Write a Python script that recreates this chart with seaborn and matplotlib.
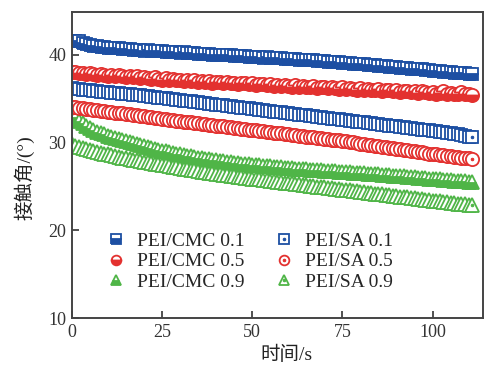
import numpy as np
import pandas as pd
import matplotlib
matplotlib.use("Agg")
import matplotlib.pyplot as plt
from matplotlib.legend_handler import HandlerTuple
import seaborn as sns

# time axis (s)
time_s = list(range(0, 112))

# contact angle readings (deg), one per second
cmc_01 = [41.65, 41.60, 41.55, 41.40, 41.25, 41.15, 41.05, 41.00, 40.95, 40.90,
          40.85, 40.85, 40.80, 40.75, 40.70, 40.72, 40.65, 40.60, 40.62, 40.55,
          40.50, 40.52, 40.48, 40.45, 40.40, 40.42, 40.38, 40.35, 40.33, 40.30,
          40.28, 40.30, 40.25, 40.20, 40.22, 40.15, 40.12, 40.10, 40.08, 40.05,
          40.02, 40.05, 40.00, 39.95, 39.97, 39.92, 39.90, 39.88, 39.85, 39.80,
          39.78, 39.80, 39.75, 39.70, 39.72, 39.68, 39.65, 39.62, 39.60, 39.58,
          39.55, 39.55, 39.50, 39.48, 39.45, 39.42, 39.40, 39.38, 39.35, 39.30,
          39.28, 39.25, 39.25, 39.20, 39.15, 39.12, 39.10, 39.05, 39.02, 39.00,
          38.95, 38.92, 38.90, 38.85, 38.82, 38.80, 38.75, 38.70, 38.68, 38.65,
          38.60, 38.55, 38.52, 38.50, 38.45, 38.40, 38.38, 38.35, 38.30, 38.25,
          38.22, 38.20, 38.15, 38.10, 38.08, 38.05, 38.00, 37.95, 37.92, 37.90,
          37.85, 37.80]
cmc_05 = [38.10, 38.05, 37.95, 38.00, 37.85, 37.90, 37.80, 37.75, 37.85, 37.70,
          37.65, 37.70, 37.60, 37.75, 37.55, 37.50, 37.60, 37.45, 37.55, 37.40,
          37.50, 37.35, 37.30, 37.45, 37.25, 37.20, 37.35, 37.15, 37.25, 37.10,
          37.20, 37.05, 37.15, 37.00, 37.10, 36.95, 37.05, 36.90, 37.00, 36.85,
          36.95, 36.90, 36.80, 36.95, 36.75, 36.85, 36.70, 36.80, 36.75, 36.65,
          36.80, 36.60, 36.70, 36.65, 36.55, 36.70, 36.50, 36.60, 36.45, 36.55,
          36.50, 36.40, 36.55, 36.35, 36.45, 36.40, 36.30, 36.45, 36.25, 36.40,
          36.30, 36.20, 36.35, 36.25, 36.15, 36.30, 36.10, 36.20, 36.15, 36.05,
          36.20, 36.00, 36.10, 36.05, 35.95, 36.10, 35.90, 36.00, 35.95, 35.85,
          36.00, 35.80, 35.90, 35.85, 35.75, 35.90, 35.70, 35.85, 35.75, 35.65,
          35.80, 35.60, 35.70, 35.90, 35.55, 35.65, 35.60, 35.50, 35.75, 35.55,
          35.50, 35.45]
cmc_09 = [33.50, 32.90, 32.50, 32.20, 31.90, 31.65, 31.45, 31.25, 31.10, 30.95,
          30.80, 30.68, 30.56, 30.44, 30.32, 30.20, 30.08, 29.96, 29.84, 29.72,
          29.60, 29.50, 29.40, 29.30, 29.20, 29.10, 29.01, 28.92, 28.83, 28.74,
          28.65, 28.58, 28.51, 28.44, 28.37, 28.30, 28.23, 28.16, 28.10, 28.04,
          27.98, 27.92, 27.86, 27.80, 27.75, 27.70, 27.66, 27.62, 27.57, 27.52,
          27.48, 27.44, 27.40, 27.36, 27.32, 27.29, 27.25, 27.21, 27.18, 27.14,
          27.10, 27.07, 27.04, 27.01, 26.98, 26.95, 26.92, 26.89, 26.86, 26.83,
          26.80, 26.78, 26.75, 26.73, 26.70, 26.67, 26.64, 26.61, 26.58, 26.55,
          26.52, 26.49, 26.46, 26.43, 26.40, 26.37, 26.34, 26.31, 26.28, 26.25,
          26.22, 26.19, 26.16, 26.13, 26.10, 26.06, 26.02, 25.98, 25.94, 25.90,
          25.86, 25.83, 25.80, 25.77, 25.74, 25.71, 25.68, 25.65, 25.62, 25.59,
          25.55, 25.52]
sa_01 = [36.20, 36.15, 36.10, 36.05, 36.00, 35.95, 35.91, 35.87, 35.83, 35.79,
         35.75, 35.71, 35.67, 35.63, 35.59, 35.55, 35.51, 35.47, 35.43, 35.39,
         35.35, 35.30, 35.25, 35.20, 35.15, 35.10, 35.05, 35.00, 34.95, 34.90,
         34.85, 34.80, 34.75, 34.70, 34.65, 34.60, 34.55, 34.50, 34.45, 34.40,
         34.35, 34.30, 34.25, 34.20, 34.15, 34.10, 34.05, 34.00, 33.95, 33.90,
         33.85, 33.80, 33.75, 33.70, 33.65, 33.60, 33.55, 33.50, 33.45, 33.40,
         33.35, 33.30, 33.25, 33.20, 33.15, 33.10, 33.05, 33.00, 32.95, 32.90,
         32.85, 32.80, 32.75, 32.70, 32.65, 32.60, 32.55, 32.50, 32.45, 32.40,
         32.35, 32.30, 32.25, 32.20, 32.15, 32.10, 32.05, 32.00, 31.95, 31.90,
         31.85, 31.80, 31.75, 31.70, 31.65, 31.60, 31.55, 31.50, 31.45, 31.40,
         31.35, 31.30, 31.25, 31.20, 31.15, 31.10, 31.00, 30.95, 30.85, 30.80,
         30.70, 30.60]
sa_05 = [34.10, 34.05, 33.99, 33.93, 33.88, 33.82, 33.77, 33.71, 33.66, 33.60,
         33.55, 33.49, 33.44, 33.38, 33.33, 33.27, 33.22, 33.16, 33.11, 33.05,
         33.00, 32.95, 32.89, 32.84, 32.78, 32.73, 32.67, 32.62, 32.56, 32.51,
         32.45, 32.40, 32.35, 32.30, 32.25, 32.20, 32.15, 32.10, 32.05, 32.00,
         31.95, 31.90, 31.85, 31.80, 31.75, 31.70, 31.65, 31.60, 31.55, 31.50,
         31.45, 31.40, 31.35, 31.30, 31.25, 31.20, 31.15, 31.10, 31.05, 31.00,
         30.95, 30.90, 30.85, 30.80, 30.75, 30.70, 30.65, 30.60, 30.55, 30.50,
         30.45, 30.40, 30.35, 30.30, 30.25, 30.20, 30.14, 30.08, 30.02, 29.96,
         29.90, 29.84, 29.78, 29.72, 29.66, 29.60, 29.54, 29.48, 29.42, 29.36,
         29.30, 29.24, 29.18, 29.12, 29.06, 29.00, 28.94, 28.88, 28.82, 28.76,
         28.70, 28.65, 28.60, 28.55, 28.50, 28.45, 28.40, 28.35, 28.30, 28.25,
         28.20, 28.15]
sa_09 = [29.80, 29.65, 29.52, 29.40, 29.28, 29.17, 29.06, 28.96, 28.86, 28.76,
         28.66, 28.57, 28.48, 28.39, 28.30, 28.22, 28.14, 28.06, 27.98, 27.90,
         27.82, 27.75, 27.68, 27.61, 27.54, 27.47, 27.40, 27.33, 27.26, 27.19,
         27.12, 27.05, 26.98, 26.91, 26.84, 26.77, 26.70, 26.63, 26.56, 26.50,
         26.44, 26.38, 26.32, 26.26, 26.20, 26.15, 26.10, 26.05, 26.00, 25.95,
         25.90, 25.85, 25.80, 25.75, 25.70, 25.65, 25.60, 25.55, 25.50, 25.45,
         25.40, 25.35, 25.30, 25.25, 25.20, 25.15, 25.10, 25.05, 25.00, 24.95,
         24.90, 24.85, 24.80, 24.75, 24.70, 24.65, 24.60, 24.55, 24.50, 24.45,
         24.40, 24.35, 24.30, 24.25, 24.20, 24.15, 24.10, 24.05, 24.00, 23.95,
         23.90, 23.85, 23.80, 23.75, 23.70, 23.65, 23.60, 23.55, 23.50, 23.45,
         23.40, 23.35, 23.30, 23.25, 23.20, 23.15, 23.10, 23.05, 23.00, 22.95,
         22.90, 22.85]

labels = ["PEI/CMC 0.1", "PEI/CMC 0.5", "PEI/CMC 0.9",
          "PEI/SA 0.1", "PEI/SA 0.5", "PEI/SA 0.9"]
series = [cmc_01, cmc_05, cmc_09, sa_01, sa_05, sa_09]

BLUE = "#1d4fa3"
RED = "#e3312f"
GREEN = "#4fb547"
colors = [BLUE, RED, GREEN, BLUE, RED, GREEN]
markers = ["s", "o", "^", "s", "o", "^"]
msizes = [8.5, 9.5, 10.5, 8.5, 9.5, 10.5]

df = pd.DataFrame({"t": time_s})
for lab, vals in zip(labels, series):
    df[lab] = vals

sns.set_theme(style="ticks")
plt.rcParams["font.family"] = ["Liberation Serif", "Noto Sans CJK SC"]
plt.rcParams["axes.unicode_minus"] = False

fig = plt.figure(figsize=(4.85, 3.7), dpi=100)
ax = fig.add_axes([0.148, 0.1405, 0.848, 0.827])

handles = []
for i, lab in enumerate(labels):
    filled = i < 3
    kw = dict(marker=markers[i], markersize=msizes[i], markeredgecolor=colors[i],
              markeredgewidth=1.3, linestyle="", estimator=None, ax=ax)
    if filled:
        kw.update(fillstyle="bottom", markerfacecolor=colors[i],
                  markerfacecoloralt="white")
    else:
        kw.update(markerfacecolor="white")
    sns.lineplot(data=df, x="t", y=lab, **kw)
    main = ax.get_lines()[-1]
    if filled:
        handles.append(main)
    else:
        # centre dot on the last open marker
        sns.lineplot(x=time_s[-1:], y=series[i][-1:], marker="o", markersize=1.8,
                     color=colors[i], markeredgecolor=colors[i], linestyle="",
                     estimator=None, ax=ax)
        dot = ax.get_lines()[-1]
        handles.append((main, dot))

ax.set_xlim(0, 114)
ax.set_ylim(10, 44.9)
ax.set_xticks([0, 25, 50, 75, 100])
ax.set_yticks([10, 20, 30, 40])
ax.tick_params(direction="in", length=5, width=1.2, labelsize=13,
               colors="#333333", pad=4)
for s in ax.spines.values():
    s.set_linewidth(1.4)
    s.set_color("#444444")

ax.set_xlabel("时间/s", fontsize=14, color="#222222")
ax.set_ylabel("接触角/(°)", fontsize=14, color="#222222")
ax.xaxis.set_label_coords(0.523, -0.09)
ax.yaxis.set_label_coords(-0.09, 0.46)

leg = ax.legend(handles, labels, ncol=2, loc="upper left",
                bbox_to_anchor=(0.05, 0.325),
                frameon=False, fontsize=14, handlelength=1.0, handletextpad=0.6,
                columnspacing=1.5, labelspacing=0.15, borderpad=0.2,
                handler_map={tuple: HandlerTuple(ndivide=1, pad=0)})
for h in leg.legend_handles:
    h.set_markersize(7)

fig.savefig("out.png", dpi=100)
